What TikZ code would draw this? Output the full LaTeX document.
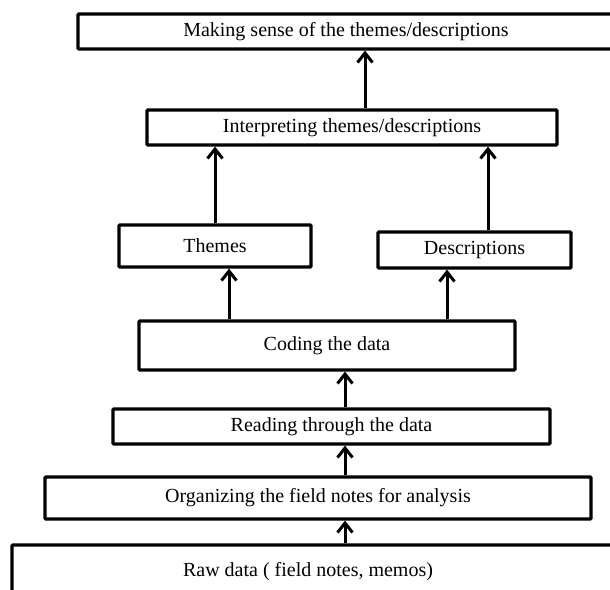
\documentclass[tikz,border=0pt]{standalone}
\usepackage{fontspec}
\setmainfont{Liberation Serif}
\usetikzlibrary{arrows.meta}
\tikzset{
  stagebox/.style={draw=black, line width=3.2pt, rounded corners=1pt, fill=white,
    inner sep=0pt, font=\fontsize{20pt}{22pt}\selectfont},
  arr/.style={draw=black, line width=3pt, -{Straight Barb[length=9.5pt,width=15pt,line width=3pt]}}
}
\begin{document}
\begin{tikzpicture}[x=1pt,y=-1pt]
\useasboundingbox (0,0) rectangle (610,589);
\fill[white] (0,0) rectangle (610,589);
\node[stagebox, minimum width=536pt, minimum height=35pt] (top) at (346,31.5) {Making sense of the themes/descriptions};
\node[stagebox, minimum width=410pt, minimum height=35pt] (interp) at (352,127.5) {Interpreting themes/descriptions};
\node[stagebox, minimum width=192pt, minimum height=42pt] (themes) at (215,246) {Themes};
\node[stagebox, minimum width=193pt, minimum height=36pt] (desc) at (474.5,250) {Descriptions};
\node[stagebox, minimum width=376pt, minimum height=49pt] (coding) at (327,345.5) {Coding the data};
\node[stagebox, minimum width=437pt, minimum height=35pt] (reading) at (331.5,426.5) {Reading through the data};
\node[stagebox, minimum width=546pt, minimum height=42pt] (org) at (318,498) {Organizing the field notes for analysis};
\node[stagebox, minimum width=628pt, minimum height=60pt,
  label={[font=\fontsize{20pt}{22pt}\selectfont, yshift=3pt]center:\hspace*{-36pt}Raw data ( field notes, memos)}] (raw) at (326,575) {};
\draw[arr] ([xshift=19pt]raw.north) -- ([xshift=27pt]org.south);
\draw[arr] ([xshift=27pt]org.north) -- ([xshift=13.5pt]reading.south);
\draw[arr] ([xshift=13.5pt]reading.north) -- ([xshift=18pt]coding.south);
\draw[arr] ([xshift=-98pt]coding.north) -- ([xshift=14pt]themes.south);
\draw[arr] ([xshift=120pt]coding.north) -- ([xshift=-27.5pt]desc.south);
\draw[arr] (themes.north) -- ([xshift=-137pt]interp.south);
\draw[arr] ([xshift=13.5pt]desc.north) -- ([xshift=136pt]interp.south);
\draw[arr] ([xshift=13pt]interp.north) -- ([xshift=19pt]top.south);
\end{tikzpicture}
\end{document}
